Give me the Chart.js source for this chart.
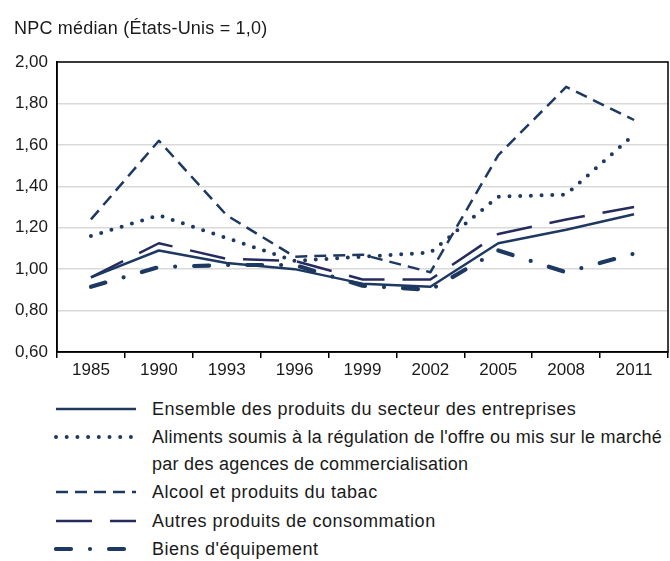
<!DOCTYPE html>
<html>
<head>
<meta charset="utf-8">
<script src="https://cdn.jsdelivr.net/npm/chart.js@4.4.1/dist/chart.umd.min.js"></script>
<style>
  html, body { margin: 0; padding: 0; background: #fff; }
  body { width: 670px; height: 561px; position: relative; overflow: hidden;
         font-family: "Liberation Sans Narrow", "Arial Narrow", "Liberation Sans", sans-serif; color: #1a1a1a; }
  #wrap { position: absolute; left: 0; top: 0; width: 670px; height: 385px; }
  #title { position: absolute; left: 14px; top: 18px; font-size: 18px; letter-spacing: 0.2px; white-space: nowrap; }
  .leg { position: absolute; left: 0; font-size: 18px; letter-spacing: 0.5px; white-space: nowrap; }
  .leg svg { position: absolute; left: 54px; top: 0; }
  .leg span { position: absolute; left: 152px; top: 0; line-height: 20px; }
</style>
</head>
<body>
<div id="wrap"><canvas id="c" width="670" height="385"></canvas></div>
<div id="title">NPC médian (États-Unis = 1,0)</div>
<div id="legend"></div>
<script>
const categories = ["1985","1990","1993","1996","1999","2002","2005","2008","2011"];
const ensemble = [0.96, 1.09, 1.03, 1.00, 0.93, 0.915, 1.125, 1.19, 1.265];
const aliments = [1.16, 1.26, 1.15, 1.04, 1.06, 1.08, 1.35, 1.36, 1.65];
const alcool   = [1.24, 1.62, 1.26, 1.06, 1.07, 0.985, 1.55, 1.88, 1.72];
const autres   = [0.96, 1.125, 1.05, 1.04, 0.95, 0.95, 1.17, 1.24, 1.30];
const biens    = [0.915, 1.01, 1.02, 1.02, 0.92, 0.90, 1.09, 0.985, 1.075];
const yTicks = [0.6, 0.8, 1.0, 1.2, 1.4, 1.6, 1.8, 2.0];

const NAVY = "#1d3961";
const NAVY2 = "#262b5e";
const FONT = '"Liberation Sans Narrow", "Arial Narrow", "Liberation Sans", sans-serif';

const seriesDefs = [
  { label: "Ensemble des produits du secteur des entreprises", data: ensemble, color: NAVY, width: 2.5, dash: [], cap: "butt" },
  { label: "Aliments soumis à la régulation de l'offre ou mis sur le marché\npar des agences de commercialisation", data: aliments, color: NAVY, width: 4, dash: [0, 10.7], cap: "round" },
  { label: "Alcool et produits du tabac", data: alcool, color: NAVY, width: 2.5, dash: [12, 7], cap: "butt" },
  { label: "Autres produits de consommation", data: autres, color: NAVY2, width: 2.5, dash: [36, 18], cap: "butt" },
  { label: "Biens d'équipement", data: biens, color: NAVY, width: 4.2, dash: [15, 19, 0, 19], cap: "round" }
];

const borderPlugin = {
  id: "plotBorder",
  afterDraw(chart) {
    const { ctx, chartArea: a } = chart;
    ctx.save();
    ctx.strokeStyle = "#000";
    ctx.lineWidth = 1.5;
    ctx.strokeRect(a.left, a.top, a.right - a.left, a.bottom - a.top);
    ctx.restore();
  }
};

new Chart(document.getElementById("c"), {
  type: "line",
  data: {
    labels: categories,
    datasets: seriesDefs.map(s => ({
      label: s.label, data: s.data, borderColor: s.color, borderWidth: s.width,
      borderDash: s.dash, borderCapStyle: s.cap, borderJoinStyle: "round",
      pointRadius: 0, fill: false, tension: 0
    }))
  },
  options: {
    responsive: false, animation: false,
    layout: { padding: { left: 0, right: 2, top: 62, bottom: 0 } },
    plugins: { legend: { display: false }, tooltip: { enabled: false }, title: { display: false } },
    scales: {
      x: {
        offset: true,
        grid: { offset: true, drawOnChartArea: false, color: "#000", lineWidth: 1.5, tickLength: 6, tickColor: "#000" },
        border: { color: "#000", width: 1.5 },
        ticks: { color: "#1a1a1a", font: { family: FONT, size: 17 }, padding: 2, maxRotation: 0 },
        afterFit(s) { s.height = 33; }
      },
      y: {
        min: 0.6, max: 2.0,
        afterBuildTicks(s) { s.ticks = yTicks.map(v => ({ value: v })); },
        grid: { color: "#d9d9d9", lineWidth: 1.5, drawTicks: false },
        border: { color: "#000", width: 1.5 },
        ticks: { color: "#1a1a1a", font: { family: FONT, size: 17 }, padding: 9,
                 callback: v => Number(v).toFixed(2).replace(".", ",") },
        afterFit(s) { s.width = 57; }
      }
    }
  },
  plugins: [borderPlugin]
});

// legend (HTML text, svg samples)
const legendRows = [
  { i: 0, y: 399 },
  { i: 1, y: 427 },
  { i: 2, y: 482 },
  { i: 3, y: 511 },
  { i: 4, y: 539 }
];
const legend = document.getElementById("legend");
legendRows.forEach(r => {
  const s = seriesDefs[r.i];
  const div = document.createElement("div");
  div.className = "leg";
  div.style.top = r.y + "px";
  const ns = "http://www.w3.org/2000/svg";
  const svg = document.createElementNS(ns, "svg");
  svg.setAttribute("width", "84"); svg.setAttribute("height", "20");
  const ln = document.createElementNS(ns, "line");
  ln.setAttribute("x1", "2"); ln.setAttribute("x2", "82");
  ln.setAttribute("y1", "10"); ln.setAttribute("y2", "10");
  ln.setAttribute("stroke", s.color);
  ln.setAttribute("stroke-width", s.width);
  ln.setAttribute("stroke-linecap", s.cap);
  if (s.dash.length) ln.setAttribute("stroke-dasharray", s.dash.join(" "));
  svg.appendChild(ln);
  div.appendChild(svg);
  const sp = document.createElement("span");
  sp.innerHTML = s.label.replace("\n", "<br>");
  sp.style.lineHeight = r.i === 1 ? "27px" : "20px";
  if (r.i === 1) { sp.style.top = "-3px"; sp.style.letterSpacing = "0.25px"; }
  div.appendChild(sp);
  legend.appendChild(div);
});
</script>
</body>
</html>
